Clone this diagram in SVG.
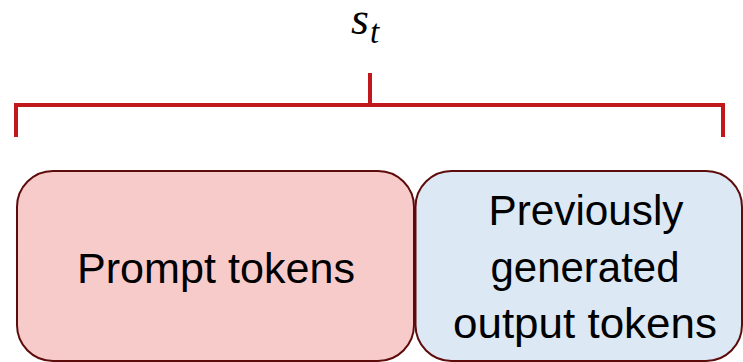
<svg xmlns="http://www.w3.org/2000/svg" width="743" height="362" viewBox="0 0 743 362">
<style>
.box{stroke:#5E0B0B;stroke-width:2}
.lbl{font-family:"Liberation Sans",Arial,sans-serif;font-size:42px;fill:#000;text-anchor:middle}
.br{fill:none;stroke:#C0181D;stroke-width:4}
.math{font-family:"Liberation Serif","Times New Roman",serif;font-style:italic;fill:#000}
</style>
<rect width="743" height="362" fill="#fff"/>
<g id="label-st">
<text class="math" x="351" y="34" font-size="46">s</text>
<text class="math" x="370" y="43" font-size="33">t</text>
</g>
<g id="connectors">
<path class="br" d="M370 73 V105 M16 105 H723 M16 103 V137 M723 103 V137"/>
</g>
<g id="prompt">
<rect class="box" x="17" y="171" width="397" height="190" rx="36" fill="#F8CBCB"/>
<text class="lbl" x="216" y="283" textLength="278" lengthAdjust="spacingAndGlyphs">Prompt tokens</text>
</g>
<g id="previous">
<rect class="box" x="415.5" y="171" width="326.5" height="190" rx="36" fill="#DCE8F4"/>
<text class="lbl" x="586" y="225" textLength="195" lengthAdjust="spacingAndGlyphs">Previously</text>
<text class="lbl" x="585" y="282" textLength="189" lengthAdjust="spacingAndGlyphs">generated</text>
<text class="lbl" x="585" y="338" textLength="264" lengthAdjust="spacingAndGlyphs">output tokens</text>
</g>
</svg>
